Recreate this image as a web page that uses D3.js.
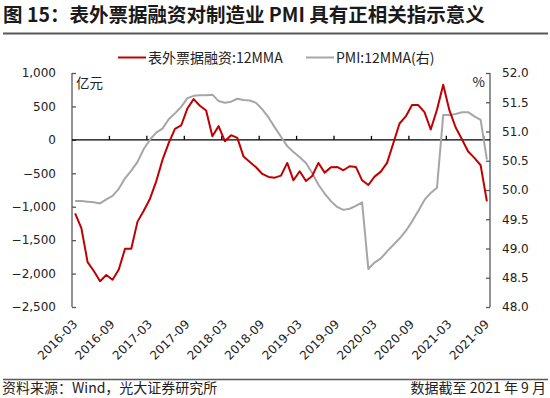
<!DOCTYPE html>
<html><head><meta charset="utf-8">
<script src="https://cdn.jsdelivr.net/npm/d3@7"></script>
<style>
html,body{margin:0;padding:0;background:#fff;}
svg{display:block;}
</style></head>
<body>
<svg id="c" width="550" height="398"></svg>
<script>
const startMonth = "2016-03";
const endMonth = "2021-09";
const tickLabels = ["2016-03","2016-09","2017-03","2017-09","2018-03","2018-09","2019-03","2019-09","2020-03","2020-09","2021-03","2021-09"];
const leftTicks = [1000,500,0,-500,-1000,-1500,-2000,-2500];
const rightTicks = [52.0,51.5,51.0,50.5,50.0,49.5,49.0,48.5,48.0];
const seriesNames = ["表外票据融资:12MMA","PMI:12MMA(右)"];
const billFinancing = [-1100,-1320,-1828,-1962,-2115,-2021,-2092,-1940,-1628,-1628,
 -1223,-1060,-880,-620,-300,-50,165,215,470,610,
 510,440,55,205,-20,70,30,-250,-330,-410,
 -510,-555,-565,-535,-345,-605,-470,-615,-540,-345,
 -490,-410,-405,-455,-395,-405,-605,-675,-550,-475,
 -345,-50,245,350,520,520,415,155,450,825,
 440,185,10,-175,-270,-380,-920];
const pmi = [49.81,49.81,49.80,49.79,49.77,49.84,49.90,50.02,50.20,50.33,
 50.48,50.70,50.86,50.98,51.05,51.21,51.31,51.42,51.57,51.61,
 51.62,51.62,51.63,51.52,51.49,51.51,51.56,51.54,51.53,51.49,
 51.38,51.24,51.07,50.91,50.75,50.65,50.56,50.46,50.29,50.09,
 49.94,49.81,49.71,49.66,49.68,49.73,49.79,48.65,48.76,48.83,
 48.95,49.06,49.17,49.30,49.46,49.64,49.83,49.95,50.04,51.28,
 51.28,51.30,51.33,51.33,51.26,51.20,50.52];

const fmtM = d3.timeFormat("%Y-%m");
const parseM = d3.timeParse("%Y-%m");
const months = d3.timeMonth.range(parseM(startMonth), d3.timeMonth.offset(parseM(endMonth),1)).map(fmtM);

const svg = d3.select("#c");
const RED = "#C00000", GRAY = "#A6A6A6", AX = "#595959";
const cjk = "'Noto Sans CJK SC','Noto Sans',sans-serif";
const num = "'DejaVu Sans',sans-serif";

svg.append("rect").attr("width",550).attr("height",398).attr("fill","#fff");

// Title
svg.append("text").attr("x",3).attr("y",22).attr("font-family",cjk).attr("font-weight","bold")
  .attr("font-size",19.5).attr("fill","#1a1a1a").text("图 15：表外票据融资对制造业 PMI 具有正相关指示意义");
svg.append("line").attr("x1",3).attr("x2",548).attr("y1",33.5).attr("y2",33.5).attr("stroke",AX).attr("stroke-width",2);

// Scales
const x = d3.scaleBand().domain(months).range([72,490]).padding(0);
const cx = m => x(m) + x.bandwidth()/2;
const yL = d3.scaleLinear().domain([-2500,1000]).range([307,73]);
const yR = d3.scaleLinear().domain([48,52]).range([307,73]);

// Left axis
const gL = svg.append("g").attr("transform","translate(72,0)")
  .call(d3.axisLeft(yL).tickValues(leftTicks).tickSize(-4).tickPadding(16).tickFormat(d3.format(",")));
gL.select(".domain").attr("stroke",AX).attr("stroke-width",1.3).attr("d","M-0,73V307");
gL.selectAll(".tick line").attr("stroke",AX).attr("stroke-width",1.3);
gL.selectAll(".tick text").attr("font-family",num).attr("font-size",12).attr("fill","#222");

// Right axis
const gR = svg.append("g").attr("transform","translate(490,0)")
  .call(d3.axisRight(yR).tickValues(rightTicks).tickSize(-4).tickPadding(12).tickFormat(d3.format(".1f")));
gR.select(".domain").attr("stroke",AX).attr("stroke-width",1.3).attr("d","M0,73V307");
gR.selectAll(".tick line").attr("stroke",AX).attr("stroke-width",1.3);
gR.selectAll(".tick text").attr("font-family",num).attr("font-size",12).attr("fill","#222");

// Zero baseline with ticks
const gX = svg.append("g").attr("transform",`translate(0,${yL(0)})`)
  .call(d3.axisTop(x).tickValues(tickLabels.slice(1)).tickSize(4).tickFormat(""));
gX.select(".domain").attr("stroke","#000").attr("stroke-width",1.3).attr("d","M72,0H490");
gX.selectAll(".tick").attr("transform", d => `translate(${x(d)},0)`);
gX.selectAll(".tick line").attr("stroke","#000").attr("stroke-width",1.3);

// Unit labels
svg.append("text").attr("x",76).attr("y",88).attr("font-family",cjk).attr("font-size",13.5).attr("fill","#222").text("亿元");
svg.append("text").attr("x",485).attr("y",87).attr("text-anchor","end").attr("font-family",cjk).attr("font-size",13.5).attr("fill","#222").text("%");

// Lines
const lineL = d3.line().x((d,i)=>cx(months[i])).y(d=>yL(d));
const lineR = d3.line().x((d,i)=>cx(months[i])).y(d=>yR(d));
svg.append("path").datum(pmi).attr("d",lineR).attr("fill","none").attr("stroke",GRAY).attr("stroke-width",2).attr("stroke-linejoin","round");
svg.append("path").datum(billFinancing).attr("d",lineL).attr("fill","none").attr("stroke",RED).attr("stroke-width",2).attr("stroke-linejoin","round");

// X labels
svg.append("g").selectAll("text").data(tickLabels).join("text")
  .attr("transform", d => `translate(${cx(d)},${322}) rotate(-45)`)
  .attr("text-anchor","end").attr("dy","0.35em")
  .attr("font-family",num).attr("font-size",12).attr("fill","#222").text(d=>d);

// Legend
const leg = [{name:seriesNames[0],c:RED,x:118},{name:seriesNames[1],c:GRAY,x:306}];
leg.forEach(l=>{
  svg.append("line").attr("x1",l.x).attr("x2",l.x+28).attr("y1",57.5).attr("y2",57.5).attr("stroke",l.c).attr("stroke-width",2);
  svg.append("text").attr("x",l.x+30).attr("y",62.5).attr("font-family",cjk).attr("font-size",14).attr("fill","#222").text(l.name);
});

// Footer
svg.append("line").attr("x1",3).attr("x2",548).attr("y1",379.5).attr("y2",379.5).attr("stroke",AX).attr("stroke-width",1.5);
svg.append("text").attr("x",2).attr("y",393).attr("font-family",cjk).attr("font-size",14).attr("fill","#222").text("资料来源：Wind，光大证券研究所");
svg.append("text").attr("x",546).attr("y",393).attr("text-anchor","end").attr("font-family",cjk).attr("font-size",14).attr("fill","#222").text("数据截至 2021 年 9 月");
</script>
</body></html>
